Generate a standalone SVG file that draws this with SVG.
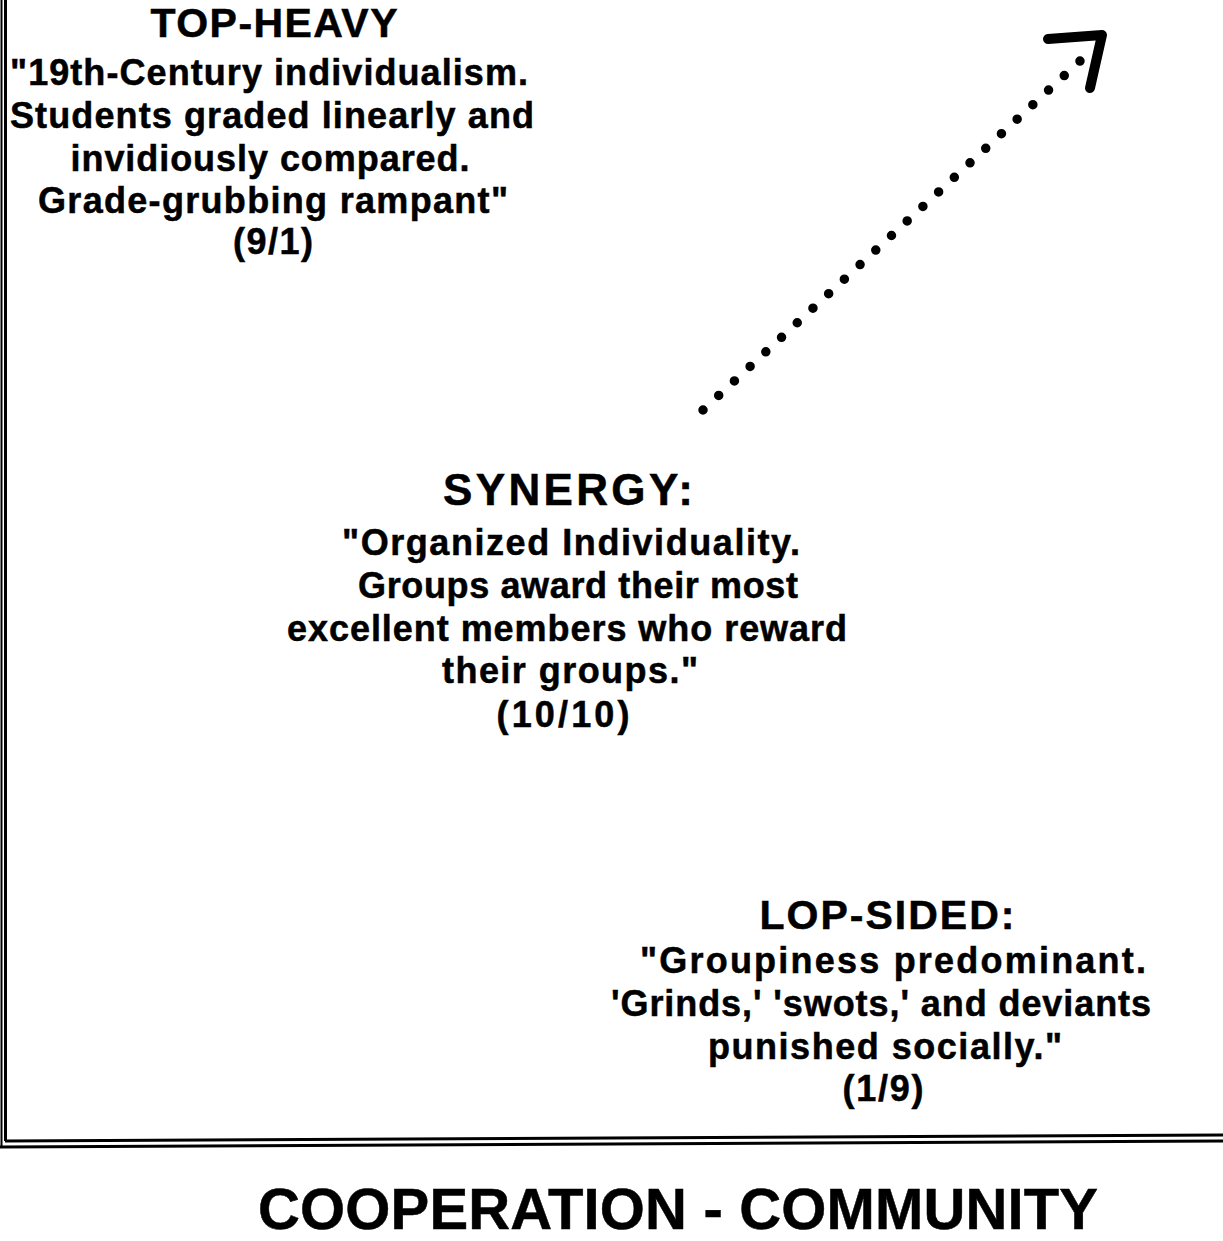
<svg xmlns="http://www.w3.org/2000/svg" width="1223" height="1241" viewBox="0 0 1223 1241">
<style>
text{font-family:"Liberation Sans",Arial,sans-serif;font-weight:bold;fill:#000;stroke:#000;stroke-width:0.5;text-anchor:middle}
.t{font-size:41px}
.b{font-size:36px}
.big{font-size:58px}
.ax{stroke:#000;fill:none}
</style>
<rect width="1223" height="1241" fill="#fff"/>
<g id="axes">
<line class="ax" x1="1.5" y1="0" x2="1.5" y2="1147" stroke-width="2"/>
<line class="ax" x1="5.5" y1="0" x2="5.5" y2="1141" stroke-width="3"/>
<line class="ax" x1="5" y1="1141" x2="1223" y2="1135" stroke-width="3"/>
<line class="ax" x1="0" y1="1147" x2="1223" y2="1141" stroke-width="3"/>
</g>
<g id="connectors">
<line x1="703" y1="410" x2="1080" y2="61" stroke="#000" stroke-width="9.5" stroke-linecap="round" stroke-dasharray="0 21.404"/>
<polyline points="1048,39 1102,35 1090,88" fill="none" stroke="#000" stroke-width="10" stroke-linecap="round" stroke-linejoin="round"/>
</g>
<g id="top-heavy">
<text class="t" x="274" y="37" textLength="247" lengthAdjust="spacing">TOP-HEAVY</text>
<text class="b" x="269" y="85" textLength="518" lengthAdjust="spacing">"19th-Century individualism.</text>
<text class="b" x="272" y="128" textLength="524" lengthAdjust="spacing">Students graded linearly and</text>
<text class="b" x="270" y="171" textLength="399" lengthAdjust="spacing">invidiously compared.</text>
<text class="b" x="273" y="213" textLength="470" lengthAdjust="spacing">Grade-grubbing rampant"</text>
<text class="b" x="273" y="254" textLength="80" lengthAdjust="spacing">(9/1)</text>
</g>
<g id="synergy">
<text class="t" x="568" y="505" textLength="250" lengthAdjust="spacing" style="font-size:44px">SYNERGY:</text>
<text class="b" x="571" y="555" textLength="458" lengthAdjust="spacing">"Organized Individuality.</text>
<text class="b" x="578" y="598" textLength="440" lengthAdjust="spacing">Groups award their most</text>
<text class="b" x="567" y="641" textLength="560" lengthAdjust="spacing">excellent members who reward</text>
<text class="b" x="570" y="683" textLength="256" lengthAdjust="spacing">their groups."</text>
<text class="b" x="563" y="727" textLength="133" lengthAdjust="spacing">(10/10)</text>
</g>
<g id="lop-sided">
<text class="t" x="887" y="929" textLength="255" lengthAdjust="spacing">LOP-SIDED:</text>
<text class="b" x="893" y="973" textLength="506" lengthAdjust="spacing">"Groupiness predominant.</text>
<text class="b" x="881" y="1016" textLength="540" lengthAdjust="spacing">'Grinds,' 'swots,' and deviants</text>
<text class="b" x="885" y="1059" textLength="354" lengthAdjust="spacing">punished socially."</text>
<text class="b" x="883" y="1101" textLength="81" lengthAdjust="spacing">(1/9)</text>
</g>
<g id="axis-label">
<text class="big" x="678" y="1229" textLength="840" lengthAdjust="spacing">COOPERATION - COMMUNITY</text>
</g>
</svg>
